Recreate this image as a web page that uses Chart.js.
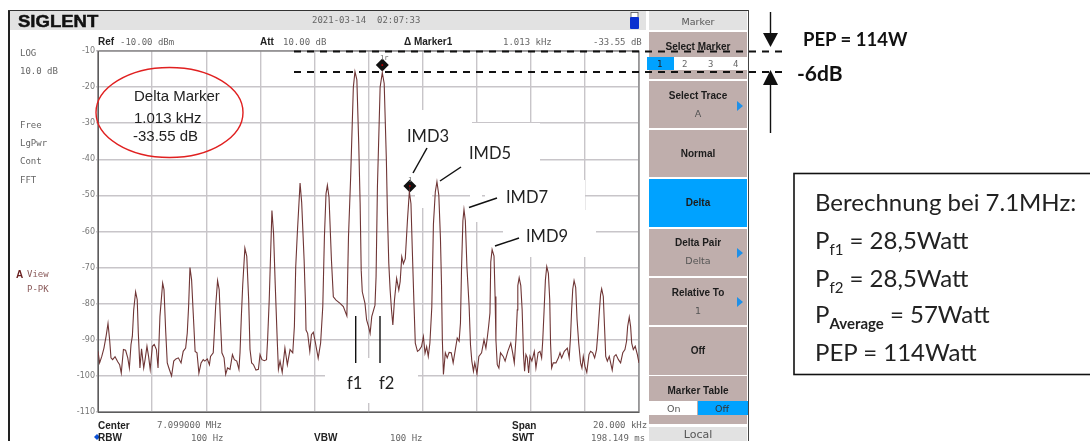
<!DOCTYPE html>
<html>
<head>
<meta charset="utf-8">
<title>IMD Messung</title>
<script src="https://cdn.jsdelivr.net/npm/chart.js@4"></script>
<style>
  html, body { margin: 0; padding: 0; background: #fff; }
  #page { position: relative; width: 1090px; height: 441px; overflow: hidden; }
  #plot { position: absolute; left: 0; top: 0; }
  svg { position: absolute; left: 0; top: 0; }
  .b { position: absolute; }
  .t { position: absolute; white-space: nowrap; line-height: 1; font: 9px "DejaVu Sans Mono", monospace; color: #666; }
  .h { font: bold 10px "Liberation Sans", sans-serif; color: #222; }
  .k { position: absolute; left: 649px; width: 98px; background: #bfaeac; }
  .c { position: absolute; left: 649px; width: 98px; text-align: center; white-space: nowrap; line-height: 1; font: bold 10px "Liberation Sans", sans-serif; color: #1c1c1c; }
  .s { font: 9.5px "DejaVu Sans", sans-serif; color: #555; }
  .n { font: 16.5px Lato, sans-serif; color: #222; }
  .p { font: 24px Lato, sans-serif; color: #222; }
  .p sub { font-size: 15px; line-height: 0; }
  .e { font: 15px "Liberation Sans", sans-serif; color: #222; }
</style>
</head>
<body>
<div id="page">
  <!-- instrument frame -->
  <div class="b" style="left:8px;top:10px;width:2px;height:431px;background:#222"></div>
  <div class="b" style="left:8px;top:10px;width:741px;height:1px;background:#333"></div>
  <div class="b" style="left:748px;top:10px;width:1px;height:431px;background:#444"></div>
  <div class="b" style="left:10px;top:11px;width:636px;height:19px;background:#e2e2e2"></div>
  <div class="b" style="left:649px;top:11px;width:98px;height:19px;background:#e2e2e2"></div>
  <div class="b" style="left:649px;top:427px;width:98px;height:14px;background:#e2e2e2"></div>

  <!-- softkeys -->
  <div class="k" style="top:32px;height:47px"></div>
  <div class="k" style="top:81px;height:47px"></div>
  <div class="k" style="top:130px;height:47px"></div>
  <div class="k" style="top:179px;height:48px;background:#00a2ff"></div>
  <div class="k" style="top:229px;height:47px"></div>
  <div class="k" style="top:278px;height:47px"></div>
  <div class="k" style="top:327px;height:48px"></div>
  <div class="k" style="top:376px;height:48px"></div>
  <div class="b" style="left:649px;top:57px;width:98px;height:13px;background:#fff"></div>
  <div class="b" style="left:647px;top:57px;width:27px;height:13px;background:#00a2ff"></div>
  <div class="b" style="left:649px;top:401px;width:48px;height:14px;background:#fff"></div>
  <div class="b" style="left:698px;top:401px;width:50px;height:14px;background:#00a2ff"></div>

  <canvas id="plot" width="1090" height="441"></canvas>

  <svg width="1090" height="441">
    <ellipse cx="169.5" cy="112.5" rx="73.5" ry="45" fill="none" stroke="#e02020" stroke-width="1.4"/>
    <line x1="294" y1="51.5" x2="788" y2="51.5" stroke="#111" stroke-width="1.8" stroke-dasharray="7 6"/>
    <line x1="294" y1="72" x2="788" y2="72" stroke="#111" stroke-width="1.8" stroke-dasharray="7 6"/>
    <line x1="770.5" y1="12" x2="770.5" y2="35" stroke="#111" stroke-width="1.4"/>
    <polygon points="763,33 778,33 770.5,47" fill="#111"/>
    <polygon points="763,85 778,85 770.5,70" fill="#111"/>
    <line x1="770.5" y1="84" x2="770.5" y2="133" stroke="#111" stroke-width="1.4"/>
    <line x1="427" y1="148" x2="413" y2="173" stroke="#111" stroke-width="1.5"/>
    <line x1="461" y1="167" x2="440" y2="181" stroke="#111" stroke-width="1.5"/>
    <line x1="497" y1="198" x2="469" y2="207.5" stroke="#111" stroke-width="1.5"/>
    <line x1="519" y1="238" x2="495" y2="246" stroke="#111" stroke-width="1.5"/>
    <line x1="355.7" y1="316" x2="355.7" y2="363" stroke="#111" stroke-width="1.4"/>
    <line x1="380" y1="316" x2="380" y2="363" stroke="#111" stroke-width="1.4"/>
    <rect x="794" y="173.5" width="300" height="201" fill="none" stroke="#111" stroke-width="1.6"/>
    <polygon points="737,101 743,106 737,111" fill="#1e90e8"/>
    <polygon points="737,248 743,253 737,258" fill="#1e90e8"/>
    <polygon points="737,297 743,302 737,307" fill="#1e90e8"/>
    <rect x="631" y="12.5" width="7" height="5" fill="#fff" stroke="#555" stroke-width="0.8"/>
    <rect x="630" y="17" width="9" height="12" rx="1" fill="#0a30d0"/>
    <polygon points="94,437 97,434 100,437 97,440" fill="#0a50d8"/>
  </svg>

  <!-- header -->
  <div class="t" style="left:18px;top:12px;font:bold 17px 'Liberation Sans',sans-serif;color:#111;transform:scaleX(1.09);transform-origin:left;-webkit-text-stroke:0.5px #111">SIGLENT</div>
  <div class="t" style="left:312px;top:15px">2021-03-14&nbsp;&nbsp;02:07:33</div>
  <div class="t s" style="left:649px;width:98px;text-align:center;top:16px">Marker</div>

  <div class="t h" style="left:98px;top:36px">Ref</div>
  <div class="t" style="left:120px;top:37px">-10.00 dBm</div>
  <div class="t h" style="left:260px;top:36px">Att</div>
  <div class="t" style="left:283px;top:37px">10.00 dB</div>
  <div class="t h" style="left:404px;top:36px">Δ Marker1</div>
  <div class="t" style="left:503px;top:37px">1.013 kHz</div>
  <div class="t" style="left:593px;top:37px">-33.55 dB</div>

  <!-- left status column -->
  <div class="t" style="left:20px;top:48px">LOG</div>
  <div class="t" style="left:20px;top:66px">10.0 dB</div>
  <div class="t" style="left:20px;top:120px">Free</div>
  <div class="t" style="left:20px;top:138px">LgPwr</div>
  <div class="t" style="left:20px;top:156px">Cont</div>
  <div class="t" style="left:20px;top:175px">FFT</div>
  <div class="t h" style="left:16px;top:269px;color:#6a2020">A</div>
  <div class="t" style="left:27px;top:269px;color:#8a5a5a">View</div>
  <div class="t" style="left:27px;top:284px;color:#8a5a5a">P-PK</div>

  <!-- footer -->
  <div class="t h" style="left:98px;top:420px">Center</div>
  <div class="t" style="left:157px;top:420px">7.099000 MHz</div>
  <div class="t h" style="left:98px;top:432px">RBW</div>
  <div class="t" style="left:191px;top:433px">100 Hz</div>
  <div class="t h" style="left:314px;top:432px">VBW</div>
  <div class="t" style="left:390px;top:433px">100 Hz</div>
  <div class="t h" style="left:512px;top:420px">Span</div>
  <div class="t" style="left:593px;top:420px">20.000 kHz</div>
  <div class="t h" style="left:512px;top:432px">SWT</div>
  <div class="t" style="left:591px;top:433px">198.149 ms</div>

  <!-- softkey labels -->
  <div class="c" style="top:41px">Select Marker</div>
  <div class="t" style="left:657px;top:59px;color:#222">1</div>
  <div class="t" style="left:682px;top:59px">2</div>
  <div class="t" style="left:708px;top:59px">3</div>
  <div class="t" style="left:733px;top:59px">4</div>
  <div class="c" style="top:90px">Select Trace</div>
  <div class="c s" style="top:108px;font-weight:normal">A</div>
  <div class="c" style="top:148px">Normal</div>
  <div class="c" style="top:197px">Delta</div>
  <div class="c" style="top:237px">Delta Pair</div>
  <div class="c s" style="top:255px;font-weight:normal">Delta</div>
  <div class="c" style="top:287px">Relative To</div>
  <div class="c s" style="top:305px;font-weight:normal">1</div>
  <div class="c" style="top:345px">Off</div>
  <div class="c" style="top:385px">Marker Table</div>
  <div class="t s" style="left:667px;top:403px">On</div>
  <div class="t s" style="left:715px;top:403px;color:#333">Off</div>
  <div class="t s" style="left:649px;width:98px;text-align:center;top:428px;font-size:11px">Local</div>

  <!-- annotations -->
  <div class="t e" style="left:134px;top:87px">Delta Marker</div>
  <div class="t e" style="left:134px;top:109px">1.013 kHz</div>
  <div class="t e" style="left:133px;top:127px">-33.55 dB</div>
  <div class="t n" style="left:407px;top:126px">IMD3</div>
  <div class="t n" style="left:469px;top:143px">IMD5</div>
  <div class="t n" style="left:506px;top:187px">IMD7</div>
  <div class="t n" style="left:526px;top:226px">IMD9</div>
  <div class="t n" style="left:347px;top:373px">f1</div>
  <div class="t n" style="left:379px;top:373px">f2</div>
  <div class="t" style="left:380px;top:54px;font-size:7px">1r</div>
  <div class="t" style="left:408px;top:176px;font-size:7px">1</div>

  <div class="t" style="left:803px;top:28px;font:bold 18.5px Lato,sans-serif;color:#111">PEP = 114W</div>
  <div class="t" style="left:797px;top:60px;font:bold 21px Lato,sans-serif;color:#111">-6dB</div>
  <div class="t p" style="left:815px;top:187px">Berechnung bei 7.1MHz:</div>
  <div class="t p" style="left:815px;top:225px">P<sub>f1</sub> = 28,5Watt</div>
  <div class="t p" style="left:815px;top:263px">P<sub>f2</sub> = 28,5Watt</div>
  <div class="t p" style="left:815px;top:299px">P<sub><b>Average</b></sub> = 57Watt</div>
  <div class="t p" style="left:815px;top:337px">PEP = 114Watt</div>
</div>

<script>
// trace: offset from the start of the 20 kHz span, level in dBm
const freqKHz = [
  0, .06, .14, .22, .30, .37, .43, .48, .54, .63, .73, .80, .86, .94, 1.02, 1.10, 1.16, 1.22, 1.27, 1.32,
  1.39, 1.45, 1.49, 1.55, 1.61, 1.69, 1.74, 1.81, 1.87, 1.93, 2.01, 2.08, 2.16, 2.22, 2.29, 2.39, 2.44, 2.50, 2.56, 2.62,
  2.72, 2.80, 2.88, 2.97, 3.07, 3.15, 3.24, 3.30, 3.35, 3.40, 3.46, 3.52, 3.59, 3.66, 3.73, 3.81, 3.89, 3.95, 4.04, 4.12,
  4.16, 4.26, 4.30, 4.35, 4.42, 4.48, 4.53, 4.58, 4.66, 4.72, 4.79, 4.88, 4.97, 5.04, 5.13, 5.21, 5.25, 5.30, 5.35, 5.43,
  5.50, 5.57, 5.62, 5.68, 5.75, 5.84, 5.93, 5.99, 6.06, 6.15, 6.23, 6.27, 6.33, 6.43, 6.49, 6.55, 6.63, 6.67, 6.73, 6.81,
  6.91, 7.00, 7.10, 7.20, 7.26, 7.31, 7.37, 7.47, 7.53, 7.62, 7.67, 7.69, 7.75, 7.83, 7.89, 7.96, 8.04, 8.14, 8.23, 8.31,
  8.37, 8.43, 8.48, 8.54, 8.63, 8.70, 8.80, 8.95, 9.07, 9.20, 9.26, 9.34, 9.44, 9.50, 9.57, 9.64, 9.69, 9.73, 9.77, 9.87,
  9.93, 10.00, 10.06, 10.12, 10.24, 10.28, 10.33, 10.43, 10.51, 10.58, 10.66, 10.70, 10.75, 10.80, 10.85, 10.90, 10.96, 11.04, 11.12, 11.17,
  11.23, 11.29, 11.36, 11.44, 11.51, 11.57, 11.62, 11.68, 11.73, 11.81, 11.88, 11.96, 12.03, 12.09, 12.15, 12.21, 12.27, 12.34, 12.40, 12.47,
  12.53, 12.60, 12.66, 12.70, 12.73, 12.77, 12.84, 12.91, 12.98, 13.06, 13.13, 13.21, 13.28, 13.35, 13.40, 13.44, 13.49, 13.53, 13.58, 13.64,
  13.72, 13.77, 13.82, 13.88, 13.93, 14.01, 14.08, 14.18, 14.27, 14.34, 14.39, 14.44, 14.49, 14.52, 14.57, 14.64, 14.68, 14.71, 14.76, 14.82,
  14.88, 14.98, 15.05, 15.15, 15.26, 15.33, 15.39, 15.45, 15.50, 15.52, 15.57, 15.63, 15.68, 15.73, 15.77, 15.82, 15.87, 15.92, 15.97, 16.04,
  16.13, 16.19, 16.27, 16.34, 16.40, 16.44, 16.49, 16.54, 16.59, 16.65, 16.70, 16.73, 16.77, 16.83, 16.93, 17.02, 17.08, 17.14, 17.24, 17.35,
  17.42, 17.47, 17.51, 17.55, 17.60, 17.66, 17.71, 17.77, 17.84, 17.89, 17.94, 18.00, 18.07, 18.15, 18.21, 18.29, 18.36, 18.43, 18.48, 18.53,
  18.58, 18.62, 18.68, 18.73, 18.77, 18.83, 18.90, 19.01, 19.08, 19.15, 19.24, 19.32, 19.40, 19.48, 19.54, 19.58, 19.64, 19.69, 19.73, 19.79,
  19.86, 19.94, 20
];
const levelDb = [
  -93.2, -96.4, -94.6, -92.3, -89, -85.5, -90, -95, -95.5, -94.7, -96.1, -96.9, -99.2, -92.7, -92.9, -95, -97.8, -91.3, -89, -81.7,
  -76.7, -78.9, -88.1, -97.8, -92.5, -97.8, -95.5, -91.8, -94.6, -98.2, -91.8, -91.3, -92.7, -97.8, -83.5, -74.3, -76.1, -87.2, -96.4, -97.8,
  -100, -95.9, -95.3, -95, -96.4, -93.2, -92.3, -88.1, -80.7, -70, -73.4, -82.6, -93.2, -93.6, -99.2, -96.4, -95.5, -95.9, -95.3, -96.9,
  -94.6, -93.6, -88.1, -80.7, -73.6, -76.1, -85.3, -93.6, -95, -99.6, -97.8, -98.2, -94.1, -95.5, -95.9, -98.2, -93.6, -83.5, -74.8, -64.6,
  -66.9, -78.9, -92.7, -96.4, -96.9, -98.4, -98.2, -94.1, -95.5, -95.8, -95.5, -90, -78.9, -54.2, -60.5, -74.3, -90.9, -98.2, -95.9, -99,
  -92.3, -96.9, -92.7, -93.6, -86.3, -69.7, -60.3, -46.6, -52, -67.9, -79.9, -87.3, -88.2, -93.2, -88.6, -87.9, -90.9, -95.1, -90.9, -80.8,
  -61.5, -49.5, -47.2, -50.5, -67.9, -78.1, -79, -79.9, -80.8, -83.4, -61.5, -45, -20, -15.7, -18, -36, -52, -70.7, -76.7, -79.9,
  -84.5, -86.3, -88.2, -83.6, -80.4, -72.5, -47.7, -20, -16, -19, -40, -55, -68.8, -76.2, -81.7, -85.9, -79, -73, -76.2, -73.9,
  -67, -68.9, -67.5, -56.9, -49, -52.3, -65.2, -79.9, -90.9, -93.2, -92.8, -91.9, -89.1, -93.7, -91.9, -94.6, -90.9, -81, -58, -49,
  -46.2, -50, -62, -75, -90, -99.6, -93.6, -95, -93.5, -93.6, -96.4, -92.7, -89.5, -90.4, -85.3, -70, -57, -53.9, -57, -70,
  -80.7, -91.3, -95.9, -98.7, -96.4, -99.4, -94.6, -93.6, -90, -92.3, -89.5, -86.3, -82.6, -68.4, -65, -66.8, -78, -90, -96.9, -97.8,
  -93.6, -94.6, -95.9, -93.2, -90.9, -93.6, -96.4, -90, -81.7, -75, -72.8, -75, -81.7, -94.1, -98.7, -94.1, -95, -99.2, -94.6, -95.9,
  -93.2, -97.8, -93.6, -93.2, -95, -90.4, -82.1, -73.4, -69.7, -71.6, -78.9, -90.9, -97.8, -96.4, -96.4, -95, -93.6, -95, -93.2, -92.3,
  -95, -89, -81.7, -76, -73.6, -75.5, -84.4, -90.8, -96.4, -97.8, -94.6, -97.3, -99, -94.1, -93.2, -93.6, -95, -92.7, -88.1, -82.6,
  -77.5, -75.9, -78, -87.2, -94.6, -95.9, -94.6, -98.4, -94.6, -94.1, -95.5, -96.4, -93.6, -92.7, -90.4, -86.3, -83.7, -86.3, -90.9, -92.7,
  -91.8, -94.1, -96.4
];
// reference marker on f2 and delta marker on the lower IMD3 product
const markerFreq = [10.51, 11.53];
const markerLevel = [-13.9, -47.4];

// the original screenshot has white text boxes pasted over its grid
const gridPatches = [
  [386, 110, 86, 62], [472, 123, 68, 57], [415, 172, 17, 36],
  [485, 180, 100, 30], [470, 180, 12, 42], [503, 210, 93, 47], [325, 358, 93, 45]
];

const patchPlugin = {
  id: 'gridPatches',
  beforeDatasetsDraw(chart) {
    const { ctx, chartArea: a } = chart;
    ctx.save();
    ctx.fillStyle = '#fff';
    gridPatches.forEach(p => ctx.fillRect(p[0], p[1], p[2], p[3]));
    ctx.strokeStyle = '#666';
    ctx.lineWidth = 1;
    ctx.strokeRect(a.left, a.top, a.right - a.left, a.bottom - a.top);
    ctx.restore();
  }
};

new Chart(document.getElementById('plot'), {
  type: 'scatter',
  data: {
    datasets: [
      {
        label: 'Trace A',
        data: freqKHz.map((x, i) => ({ x, y: levelDb[i] })),
        showLine: true,
        borderColor: '#6f3535',
        borderWidth: 1.1,
        pointRadius: 0,
        tension: 0
      },
      {
        label: 'Marker centre',
        data: markerFreq.map((x, i) => ({ x, y: markerLevel[i] })),
        pointStyle: 'rect',
        pointRadius: 1.2,
        backgroundColor: '#c00000',
        borderWidth: 0,
        order: -1
      },
      {
        label: 'Marker',
        data: markerFreq.map((x, i) => ({ x, y: markerLevel[i] })),
        pointStyle: 'rectRot',
        pointRadius: 6.5,
        backgroundColor: '#111',
        borderWidth: 0
      }
    ]
  },
  options: {
    responsive: false,
    animation: false,
    layout: { padding: { left: 0, right: 451, top: 51, bottom: 29 } },
    plugins: { legend: { display: false }, tooltip: { enabled: false } },
    scales: {
      x: {
        type: 'linear',
        min: 0,
        max: 20,
        ticks: { display: false, stepSize: 2 },
        grid: { color: '#c8c5c9', lineWidth: 1.4, drawTicks: false },
        border: { color: '#555' },
        afterFit: s => { s.height = 0; }
      },
      y: {
        min: -110,
        max: -10,
        ticks: { stepSize: 10, color: '#777', padding: 1, font: { family: 'DejaVu Sans', size: 8 } },
        grid: { color: '#c8c5c9', lineWidth: 1.4, tickLength: 2 },
        border: { color: '#555' },
        afterFit: s => { s.width = 98; }
      }
    }
  },
  plugins: [patchPlugin]
});
</script>
</body>
</html>
